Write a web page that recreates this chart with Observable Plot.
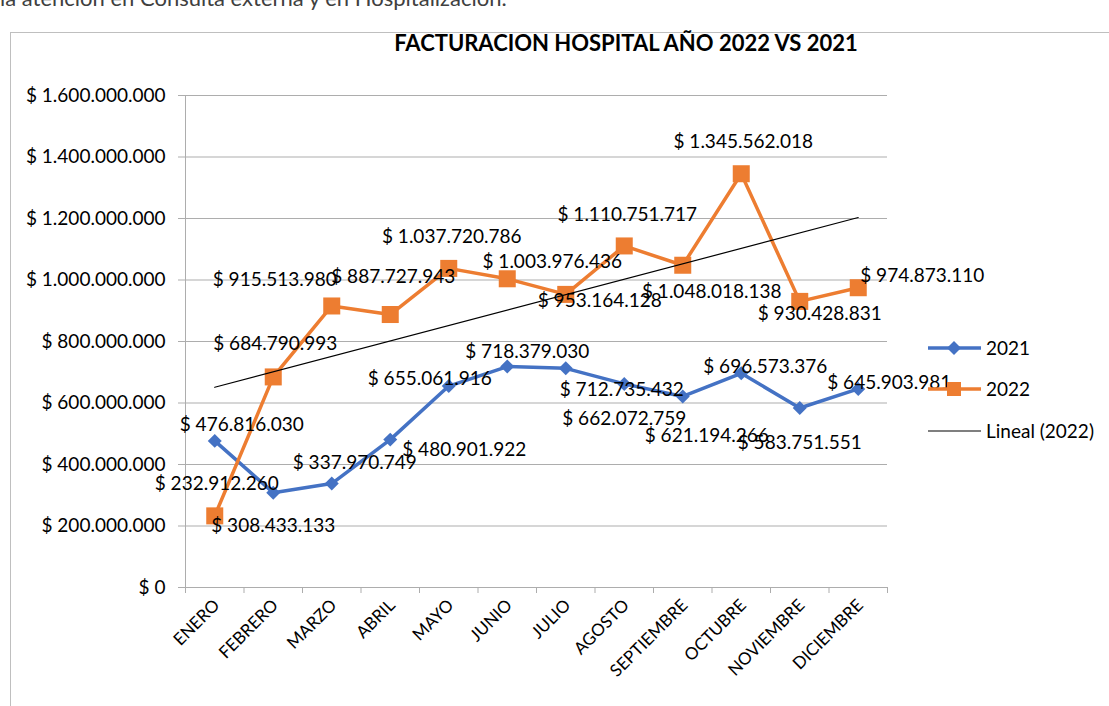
<!DOCTYPE html>
<html><head><meta charset="utf-8">
<script src="https://cdn.jsdelivr.net/npm/d3@7"></script>
<script src="https://cdn.jsdelivr.net/npm/@observablehq/plot@0.6"></script>
<style>
body{margin:0;width:1109px;height:706px;overflow:hidden;background:#fff;font-family:Lato,sans-serif;position:relative}
#doc{position:absolute;left:0;top:-13px;font-size:22px;line-height:22px;color:#404040;white-space:nowrap}
#frame{position:absolute;left:10px;top:32px;width:1200px;height:800px;border:1px solid #BFBFBF}
#chart{position:absolute;left:0;top:0}
#title{position:absolute;left:626px;top:30px;transform:translateX(-50%);font-weight:bold;font-size:22px;line-height:26px;white-space:nowrap;color:#000}
.leg{position:absolute;left:928px;font-size:19px;line-height:24px;white-space:nowrap;display:flex;align-items:center}
.leg svg{margin-right:5px}
</style></head><body>
<div id="doc">la atención en Consulta externa y en Hospitalización.</div>
<div id="frame"></div>
<div id="chart"></div>
<div id="title">FACTURACION HOSPITAL AÑO 2022 VS 2021</div>
<div id="legend"></div>
<script>
const months = ["ENERO","FEBRERO","MARZO","ABRIL","MAYO","JUNIO","JULIO","AGOSTO","SEPTIEMBRE","OCTUBRE","NOVIEMBRE","DICIEMBRE"];
const values2021 = [476816030, 308433133, 337970749, 480901922, 655061916, 718379030, 712735432, 662072759, 621194266, 696573376, 583751551, 645903981];
const values2022 = [232912260, 684790993, 915513980, 887727943, 1037720786, 1003976436, 953164128, 1110751717, 1048018138, 1345562018, 930428831, 974873110];
const yTicks = [0, 200000000, 400000000, 600000000, 800000000, 1000000000, 1200000000, 1400000000, 1600000000];
const seriesNames = ["2021", "2022", "Lineal (2022)"];
// label nudges in pixels (label offsets, relative to each point)
const labelDx2021 = [27, 0, 23, 74, -19, 20, 56, 0, 24, 24, 0, 31];
const labelDy2021 = [-16, 33, -21, 10, -7, -15, 22, 35, 39, -6, 35, -6];
const labelDx2022 = [2, 2, -57, 3, 3, 45, 34, 3, 29, 2, 20, 64];
const labelDy2022 = [-32, -33, -26, -38, -31, -17, 7, -31, 27, -32, 13, -12];

const blue = "#4472C4", orange = "#ED7D31", gridC = "#ADADAD";
const loc = d3.formatLocale({decimal: ",", thousands: ".", grouping: [3], currency: ["$ ", ""]});
const fmt = loc.format("$,.0f");

const rows21 = months.map((m, i) => ({i: i + 1, m, v: values2021[i], dx: labelDx2021[i], dy: labelDy2021[i]}));
const rows22 = months.map((m, i) => ({i: i + 1, m, v: values2022[i], dx: labelDx2022[i], dy: labelDy2022[i]}));
const bounds = d3.range(0, months.length + 1).map(k => k + 0.5);

const labelMarks = [...rows21, ...rows22].map(d => Plot.text([d], {
  x: "i", y: "v", text: r => fmt(r.v), dx: d.dx, dy: d.dy,
  fill: "#000", fontSize: 19, textAnchor: "middle", lineAnchor: "middle"
}));

const plot = Plot.plot({
  width: 1109, height: 706,
  marginLeft: 185, marginRight: 222, marginTop: 95, marginBottom: 119,
  x: {type: "linear", domain: [0.5, 12.5], axis: null},
  y: {domain: [0, 1600000000], axis: null},
  style: {fontFamily: "Lato, sans-serif", fontSize: "19px", background: "transparent", overflow: "visible", color: "#000"},
  marks: [
    Plot.gridY(yTicks, {stroke: gridC, strokeOpacity: 1}),
    Plot.axisY({ticks: yTicks, tickFormat: fmt, tickSize: 7, tickPadding: 13, stroke: gridC, fill: "#000", fontSize: 19, label: null}),
    Plot.ruleX([0.5], {stroke: gridC}),
    Plot.ruleY([0], {stroke: gridC}),
    Plot.axisX({ticks: bounds, tickFormat: () => "", tickSize: 6, stroke: gridC, label: null}),
    Plot.text(rows21, {x: "i", frameAnchor: "bottom", text: "m", rotate: -45, textAnchor: "end", lineAnchor: "middle", dx: 2, dy: 15, fontSize: 17, fill: "#000"}),
    Plot.line(rows21, {x: "i", y: "v", stroke: blue, strokeWidth: 3.5}),
    Plot.dot(rows21, {x: "i", y: "v", symbol: "diamond2", r: 6.3, fill: blue, stroke: "none"}),
    Plot.line(rows22, {x: "i", y: "v", stroke: orange, strokeWidth: 3.5}),
    Plot.dot(rows22, {x: "i", y: "v", symbol: "square", r: 9.6, fill: orange, stroke: "none"}),
    Plot.linearRegressionY(rows22, {x: "i", y: "v", stroke: "#000", strokeWidth: 1.2, ci: 0}),
    ...labelMarks
  ]
});
document.getElementById("chart").append(plot);

// legend
const legend = document.getElementById("legend");
const legItems = [
  {name: seriesNames[0], color: blue, marker: "diamond", top: 336, sw: 3.5},
  {name: seriesNames[1], color: orange, marker: "square", top: 377, sw: 3.5},
  {name: seriesNames[2], color: "#000", marker: null, top: 419, sw: 1.2}
];
for (const it of legItems) {
  const div = document.createElement("div");
  div.className = "leg";
  div.style.top = it.top + "px";
  let mk = "";
  if (it.marker === "diamond") mk = `<path d="M26,5 L33,12 L26,19 L19,12 Z" fill="${it.color}"/>`;
  if (it.marker === "square") mk = `<rect x="19" y="5" width="14" height="14" fill="${it.color}"/>`;
  div.innerHTML = `<svg width="53" height="24"><line x1="0" x2="53" y1="12" y2="12" stroke="${it.color}" stroke-width="${it.sw}"/>${mk}</svg><span>${it.name}</span>`;
  legend.append(div);
}
</script>
</body></html>
